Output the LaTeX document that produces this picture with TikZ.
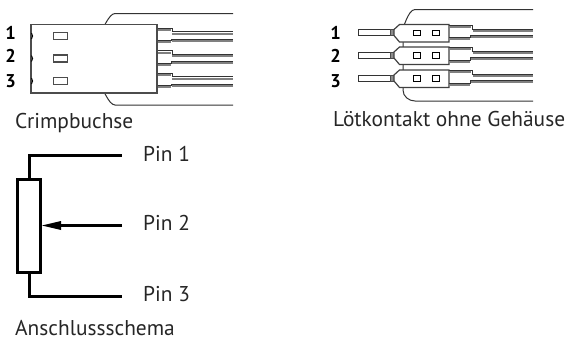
\documentclass[tikz,border=0pt]{standalone}
\usepackage{fontspec}
\setmainfont{PT Sans}
\tikzset{
  thinline/.style={draw=black!80,line width=1pt},
  grayband/.style={draw=black!50,line width=2pt},
  blackwire/.style={draw=black,line width=3pt},
  caption/.style={anchor=base west,inner sep=0pt,font=\fontsize{21.4}{24}\selectfont,text=black!85},
  pinno/.style={anchor=base,inner sep=0pt,font=\fontsize{18.5}{20}\selectfont\bfseries},
}
\begin{document}
\begin{tikzpicture}[x=1pt,y=-1pt]
\useasboundingbox (0,0) rectangle (566,340);

% crimp housing
\draw[thinline] (103,25) to[out=-90,in=180] (115,13.5) -- (233,13.5);
\draw[thinline] (103,93) to[out=90,in=180] (115,105) -- (233,105);
\foreach \c in {36,58.5,81} {
  \draw[grayband] (157,\c-6) -- (171,\c-6);
  \draw[thinline] (157,\c-8) -- (172,\c-8) -- (172,\c-4.5) -- (233,\c-4.5);
  \draw[grayband] (172,\c-2.5) -- (233,\c-2.5);
  \draw[thinline] (233,\c+3) -- (171,\c+3) -- (171,\c+4.5) -- (157,\c+4.5);
  \draw[grayband] (171,\c+6) -- (157,\c+6);
  \draw[grayband] (233,\c+4.5) -- (172,\c+4.5);
}
\node[draw=black!70,line width=1.2pt,fill=white,minimum width=126pt,minimum height=68.5pt,inner sep=0pt] (crimp) at (94,58.75) {};
\foreach \c in {36,58.5,81} {
  \draw[draw=black!70,line width=1.2pt,fill=white] (53.5,\c-3.5) rectangle (67.5,\c+3.5);
  \draw[line width=0.9pt] (31.5,\c-3) to[bend left=40] (31.5,\c+3);
}
\node[pinno] (c1) at (10.5,39) {1};
\node[pinno] (c2) at (10.5,63) {2};
\node[pinno] (c3) at (10.5,87) {3};
\node[caption] (crimplabel) at (15,128) {Crimpbuchse};

% solder contacts
\draw[thinline] (403,90) -- (403,25) to[out=-90,in=180] (415,9.5) -- (533,9.5);
\draw[thinline] (403,90) to[out=-90,in=180] (415,101) -- (533,101);
\foreach \c in {32.5,55,78} {
  \draw[thinline,fill=white] (358,\c-3) rectangle (390,\c+3);
  \draw[draw=black!70,line width=1pt,fill=black!45] (390,\c-3) rectangle (394,\c+3);
  \draw[draw=black!75,line width=1.2pt,fill=white] (394,\c-3) -- (399.5,\c-8) -- (449,\c-8) -- (449,\c+9.5) -- (399.5,\c+9.5) -- (394,\c+3) -- cycle;
  \draw[draw=black,line width=1pt] (413,\c-2.5) rectangle (420,\c+3);
  \draw[draw=black,line width=1pt] (432,\c-2.5) rectangle (439,\c+3);
  \draw[grayband] (449,\c-6) -- (471,\c-6);
  \draw[thinline] (449,\c-7.5) -- (472,\c-7.5) -- (472,\c-3.5) -- (533,\c-3.5);
  \draw[grayband] (473,\c-1.8) -- (533,\c-1.8);
  \draw[thinline] (533,\c+2.5) -- (470,\c+2.5) -- (470,\c+5) -- (449,\c+5);
  \draw[grayband] (470,\c+6.5) -- (449,\c+6.5);
  \draw[grayband] (533,\c+4.2) -- (471,\c+4.2);
}
\node[pinno] (s1) at (335.5,39) {1};
\node[pinno] (s2) at (335.5,62.7) {2};
\node[pinno] (s3) at (335.5,87) {3};
\node[caption] (solderlabel) at (333,126) {Lötkontakt ohne Gehäuse};

% schematic
\node[draw=black,line width=3pt,minimum width=23pt,minimum height=93pt,inner sep=0pt] (rpot) at (29,226) {};
\coordinate (pin1end) at (122,155);
\coordinate (pin2end) at (122,225.5);
\coordinate (pin3end) at (122,296);
\draw[blackwire] (rpot.north) |- (pin1end);
\draw[blackwire] (rpot.south) |- (pin3end);
\draw[blackwire] (pin2end) -- (55,225.5);
\fill (42,225.5) -- (61,221) -- (61,230) -- cycle;
\node[caption] (pin1) at (143,161.7) {Pin 1};
\node[caption] (pin2) at (143,230) {Pin 2};
\node[caption] (pin3) at (143,301.7) {Pin 3};
\node[caption] (schemalabel) at (15,335) {Anschlussschema};
\end{tikzpicture}
\end{document}
